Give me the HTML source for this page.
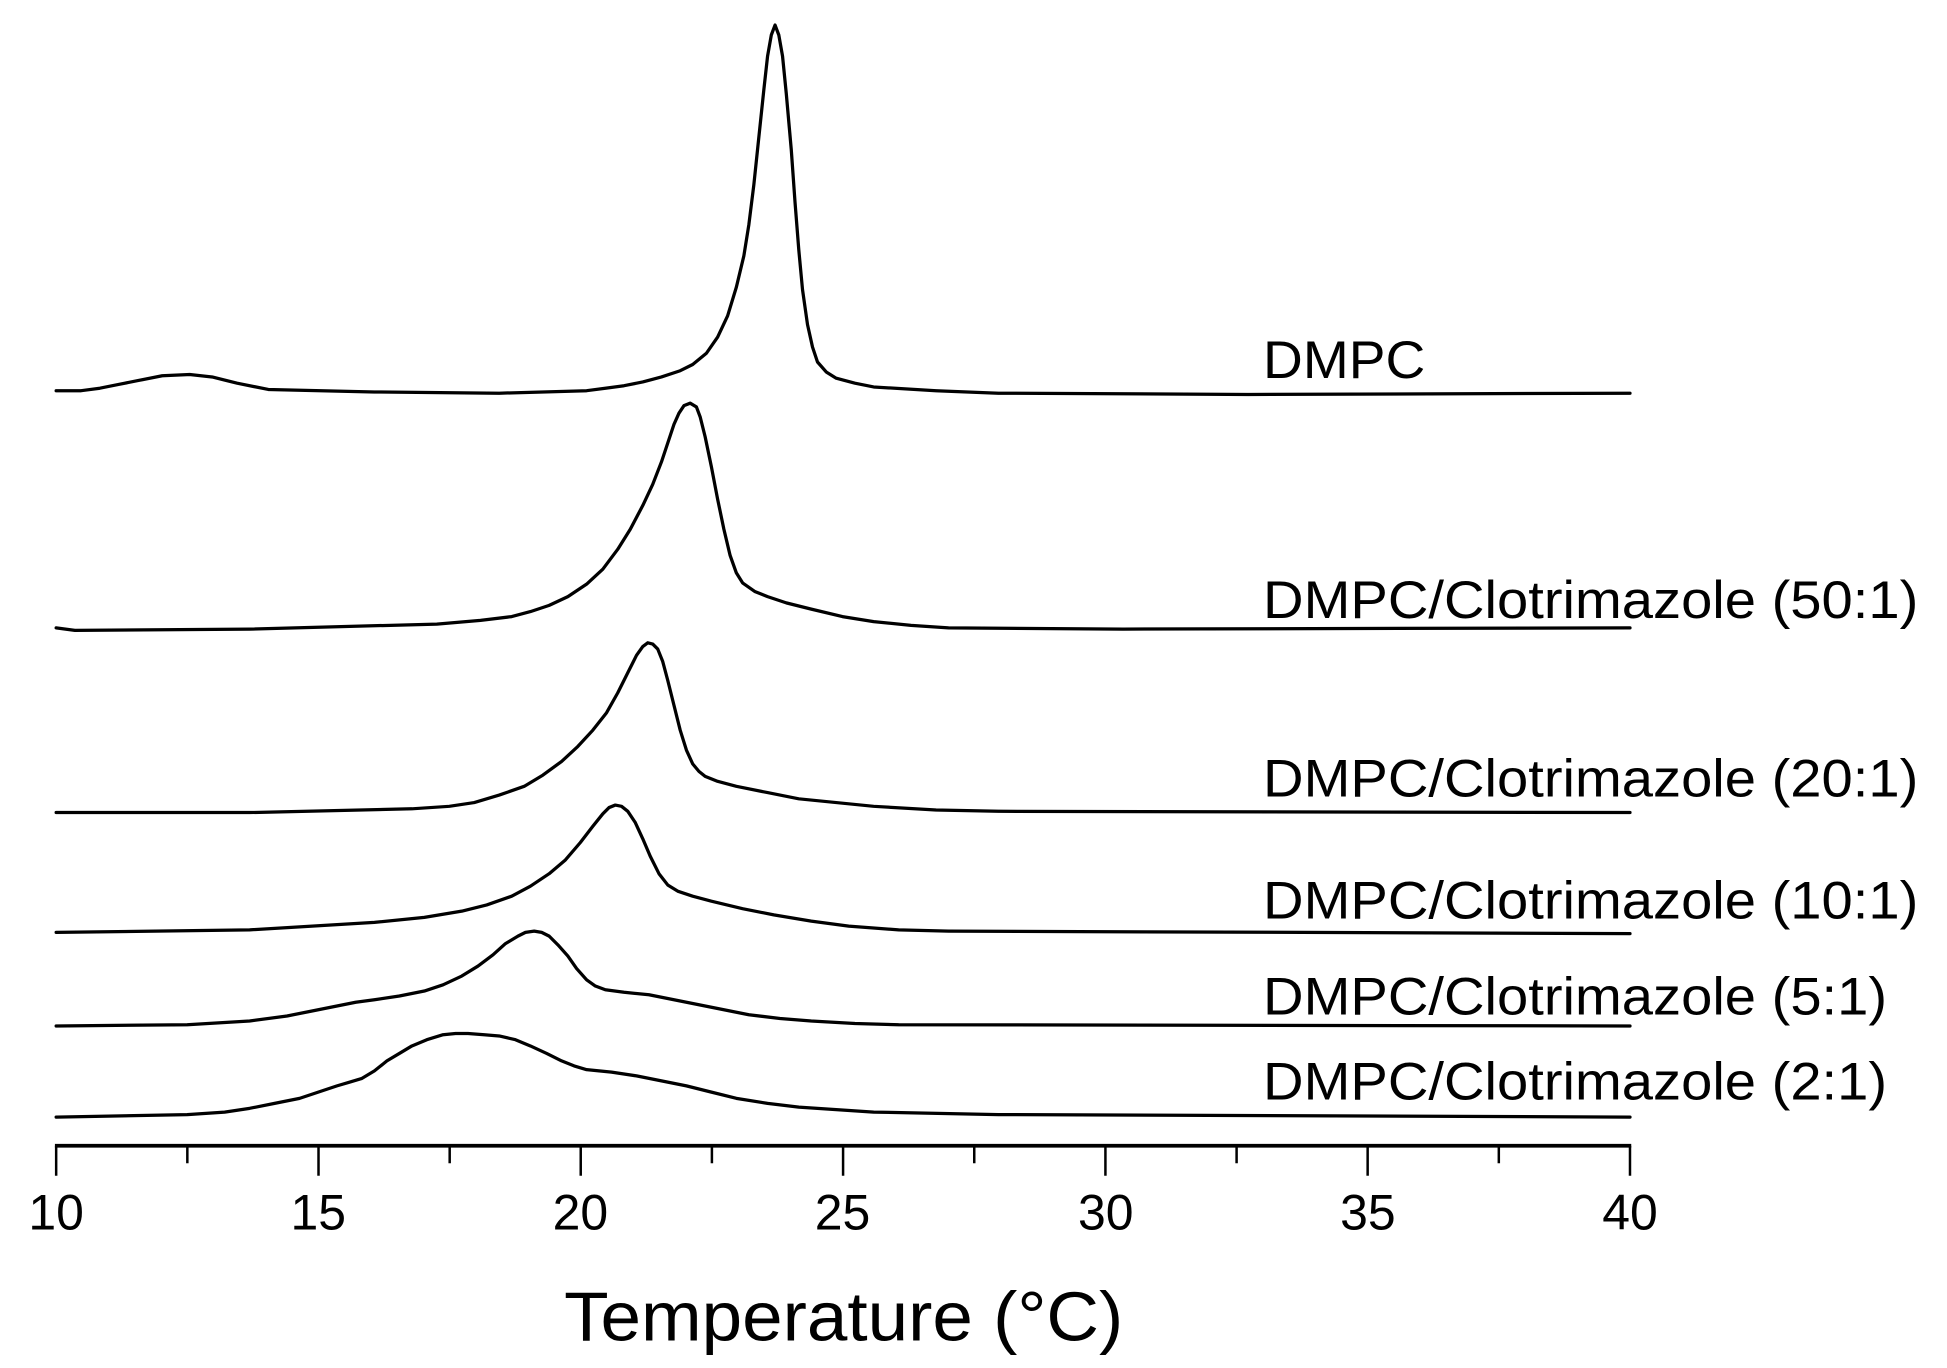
<!DOCTYPE html>
<html><head><meta charset="utf-8"><style>html,body{margin:0;padding:0;background:#fff}svg{display:block}</style></head>
<body>
<svg width="1947" height="1368" viewBox="0 0 1560 1096" xmlns="http://www.w3.org/2000/svg" font-family="Liberation Sans, Arial, sans-serif">
<rect width="1560" height="1096" fill="#fff"/>
<g fill="none" stroke="#000" stroke-width="2.6" stroke-linejoin="round" stroke-linecap="round">
<polyline points="45,313 65,313 80,311 95,308 110,305 130,301 152,300 170,302 190,307 215,312 300,314 400,315 470,313 485,311 500,309 515,306 530,302 545,297 555,292 566,283 575,270 583,253 590,230 596,205 600,180 604,148 608,110 612,72 615,45 618,28 621,20 624,28 627,45 630,75 634,120 637,162 640,200 643,232 647,260 651,278 655,290 662,298 670,303 685,307 700,310 750,313 800,315 1000,316 1306,315"/>
<polyline points="45,503 60,505 200,504 350,500 385,497 410,494 425,490 440,485 455,478 470,468 483,456 495,440 505,424 515,405 523,388 530,370 535,355 540,340 544,331 548,325 553,323 558,326 561,334 565,350 570,374 575,400 580,424 585,445 590,459 595,467 605,474 615,478 630,483 650,488 675,494 700,498 730,501 760,503 900,504 1306,503"/>
<polyline points="45,651 200,651 330,648 360,646 380,643 400,637 420,630 435,621 450,610 463,598 475,585 486,571 495,555 503,539 510,525 515,518 519,515 523,516 527,520 531,530 535,545 540,565 545,585 550,601 555,612 560,618 565,622 575,626 590,630 615,635 640,640 670,643 700,646 750,649 800,650 1306,651"/>
<polyline points="45,747 200,745 300,739 340,735 370,730 390,725 410,718 425,710 440,700 453,689 465,675 475,662 483,652 488,647 493,645 498,646 503,650 509,659 515,672 521,686 528,700 535,709 543,714 555,718 570,722 595,728 620,733 650,738 680,742 720,745 760,746 1306,748"/>
<polyline points="45,822 150,821 200,818 230,814 250,810 270,806 285,803 300,801 320,798 340,794 355,789 370,782 383,774 395,765 405,756 415,750 421,747 428,746 434,747 440,750 447,757 455,766 462,776 470,785 477,790 485,793 500,795 520,797 540,801 560,805 580,809 600,813 625,816 650,818 685,820 720,821 1306,822"/>
<polyline points="45,895 150,893 180,891 200,888 220,884 240,880 255,875 270,870 280,867 290,864 300,858 310,850 320,844 330,838 342,833 355,829 365,828 375,828 388,829 400,830 413,833 425,838 438,844 450,850 460,854 470,857 490,859 510,862 530,866 550,870 570,875 590,880 615,884 640,887 670,889 700,891 800,893 1306,895"/>
</g>
<line x1="44" y1="918" x2="1307" y2="918" stroke="#000" stroke-width="3"/>
<g stroke="#000" stroke-width="2">
<line x1="45" y1="918" x2="45" y2="942"/><line x1="150.1" y1="918" x2="150.1" y2="932"/>
<line x1="255.2" y1="918" x2="255.2" y2="942"/><line x1="360.3" y1="918" x2="360.3" y2="932"/>
<line x1="465.3" y1="918" x2="465.3" y2="942"/><line x1="570.4" y1="918" x2="570.4" y2="932"/>
<line x1="675.5" y1="918" x2="675.5" y2="942"/><line x1="780.6" y1="918" x2="780.6" y2="932"/>
<line x1="885.7" y1="918" x2="885.7" y2="942"/><line x1="990.8" y1="918" x2="990.8" y2="932"/>
<line x1="1095.8" y1="918" x2="1095.8" y2="942"/><line x1="1200.9" y1="918" x2="1200.9" y2="932"/>
<line x1="1306" y1="918" x2="1306" y2="942"/>
</g>
<g font-size="40" text-anchor="middle" fill="#000">
<text x="45" y="985">10</text><text x="255" y="985">15</text><text x="465" y="985">20</text><text x="675" y="985">25</text><text x="886" y="985">30</text><text x="1096" y="985">35</text><text x="1306" y="985">40</text>
</g>
<text x="452" y="1074" font-size="56" textLength="448" lengthAdjust="spacingAndGlyphs">Temperature (°C)</text>
<g font-size="42" fill="#000">
<text x="1012" y="303" textLength="130" lengthAdjust="spacingAndGlyphs">DMPC</text>
<text x="1012" y="495" textLength="525" lengthAdjust="spacingAndGlyphs">DMPC/Clotrimazole (50:1)</text>
<text x="1012" y="638" textLength="525" lengthAdjust="spacingAndGlyphs">DMPC/Clotrimazole (20:1)</text>
<text x="1012" y="736" textLength="525" lengthAdjust="spacingAndGlyphs">DMPC/Clotrimazole (10:1)</text>
<text x="1012" y="813" textLength="500" lengthAdjust="spacingAndGlyphs">DMPC/Clotrimazole (5:1)</text>
<text x="1012" y="881" textLength="500" lengthAdjust="spacingAndGlyphs">DMPC/Clotrimazole (2:1)</text>
</g>
</svg>
</body></html>
